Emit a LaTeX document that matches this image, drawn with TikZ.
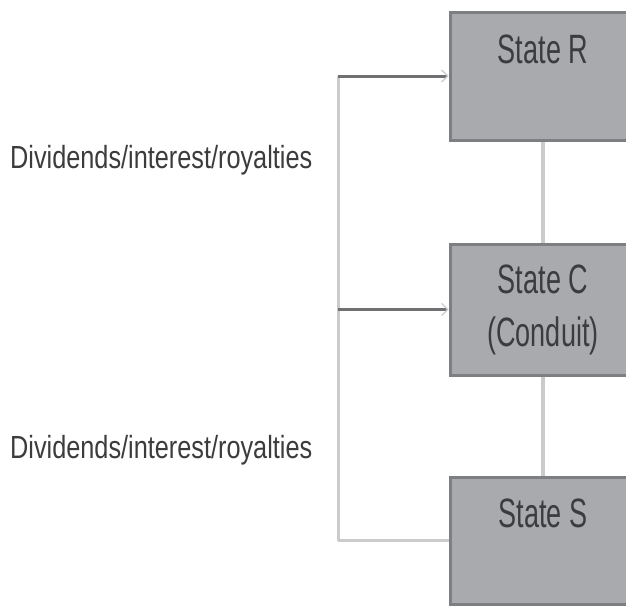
\documentclass[tikz,border=0pt]{standalone}
\usepackage{fontspec}
\setmainfont{Liberation Sans}
\usetikzlibrary{arrows.meta}
\definecolor{boxfill}{HTML}{A8AAAD}
\definecolor{boxedge}{HTML}{7E7F82}
\definecolor{linkgray}{HTML}{CBCBCD}
\definecolor{flowgray}{HTML}{707073}
\definecolor{inkgray}{HTML}{3C3C3E}
\tikzset{
  statebox/.style={draw=boxedge, line width=3pt, fill=boxfill,
    minimum width=186pt, inner sep=0pt},
  boxtext/.style={text=inkgray, inner sep=0pt, font=\fontsize{41}{55}\selectfont, align=center},
  flowtext/.style={text=inkgray, inner sep=0pt, font=\fontsize{32}{38}\selectfont},
  link/.style={draw=linkgray, line width=3.5pt},
  flow/.style={draw=flowgray, line width=3pt},
  feed/.style={draw=linkgray, line width=3pt},
  tip/.style={-{Straight Barb[length=6pt,width=12pt,line width=1.2pt,color=linkgray]}}
}
\begin{document}
\begin{tikzpicture}[x=1pt,y=-1pt]
\useasboundingbox (0,0) rectangle (626,605);
\clip (0,0) rectangle (626,605);
\fill[white] (0,0) rectangle (626,605);

% state boxes
\node[statebox, minimum height=128pt] (R) at (543,76) {};
\node[statebox, minimum height=131pt] (C) at (543,309.5) {};
\node[statebox, minimum height=127pt] (S) at (543,540.5) {};

% connections between the states
\draw[link] (R.south) -- (C.north);
\draw[link] (C.south) -- (S.north);

% payment flows
\coordinate (top) at (338,76);
\coordinate (mid) at (338,309.5);
\coordinate (bot) at (338,540.5);
\draw[feed] (top) -- (bot);
\draw[flow, tip] (top) -- (R.west);
\draw[flow, tip] (mid) -- (C.west);
\draw[feed] (bot) -- (S.west);

% box captions
\node[boxtext, anchor=base] (Rt) at (543,63) {\scalebox{0.66}[1]{State R}};
\node[boxtext, anchor=base] (Ct1) at (543,293) {\scalebox{0.66}[1]{State C}};
\node[boxtext, anchor=base] (Ct2) at (543,346) {\scalebox{0.66}[1]{(Conduit)}};
\node[boxtext, anchor=base] (St) at (543,527) {\scalebox{0.66}[1]{State S}};

% flow labels
\node[flowtext, anchor=base west] (L1) at (10,168) {\scalebox{0.79}[1]{Dividends/interest/royalties}};
\node[flowtext, anchor=base west] (L2) at (10,458) {\scalebox{0.79}[1]{Dividends/interest/royalties}};
\end{tikzpicture}
\end{document}
